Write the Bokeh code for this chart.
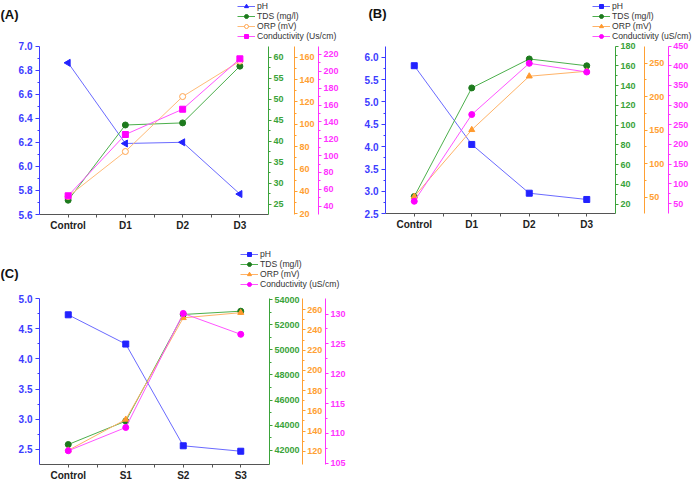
import math
from bokeh.plotting import figure
from bokeh.models import (Range1d, LinearAxis, FixedTicker, Legend, LegendItem,
                          Label, NumeralTickFormatter)
from bokeh.layouts import row, column
from bokeh.embed import file_html
from bokeh.resources import INLINE

# ---------------- data ----------------
# (A)
a_samples = ["Control", "D1", "D2", "D3"]
a_ph = [6.86, 6.19, 6.20, 5.77]
a_tds = [26.0, 43.9, 44.4, 57.9]
a_orp = [35.5, 75.7, 124.8, 156.4]
a_cond = [52.3, 125.0, 155.0, 214.8]
a_ph_ticks = [5.6, 5.8, 6.0, 6.2, 6.4, 6.6, 6.8, 7.0]
a_tds_ticks = [25, 30, 35, 40, 45, 50, 55, 60]
a_orp_ticks = [20, 40, 60, 80, 100, 120, 140, 160]
a_cond_ticks = [40, 60, 80, 100, 120, 140, 160, 180, 200, 220]

# (B)
b_samples = ["Control", "D1", "D2", "D3"]
b_ph = [5.81, 4.05, 2.96, 2.82]
b_tds = [27.8, 137.6, 166.9, 160.0]
b_orp = [51.0, 150.6, 230.6, 238.0]
b_cond = [55.8, 276.0, 406.0, 384.0]
b_ph_ticks = [2.5, 3.0, 3.5, 4.0, 4.5, 5.0, 5.5, 6.0]
b_tds_ticks = [20, 40, 60, 80, 100, 120, 140, 160, 180]
b_orp_ticks = [50, 100, 150, 200, 250]
b_cond_ticks = [50, 100, 150, 200, 250, 300, 350, 400, 450]

# (C)
c_samples = ["Control", "S1", "S2", "S3"]
c_ph = [4.73, 4.245, 2.56, 2.47]
c_tds = [42470, 44330, 52810, 53070]
c_orp = [121.0, 151.5, 251.9, 257.0]
c_cond = [107.1, 111.0, 130.1, 126.6]
c_ph_ticks = [2.5, 3.0, 3.5, 4.0, 4.5, 5.0]
c_tds_ticks = [42000, 44000, 46000, 48000, 50000, 52000, 54000]
c_orp_ticks = [120, 140, 160, 180, 200, 220, 240, 260]
c_cond_ticks = [105, 110, 115, 120, 125, 130]

FONT = "Liberation Sans"
W, H = 346, 240

BLUE_AX, BLUE_LN, BLUE_MK = "#3c3cff", "#6a6aff", "#2222ff"
GREEN_AX, GREEN_LN, GREEN_MK = "#3aa33a", "#4caf4c", "#1d7a1d"
ORANGE_AX = "#ffa033"
MAG_AX, MAG_LN, MAG_MK = "#ff33ff", "#ff55ff", "#ff00ff"


def minor_between(ticks):
    return [(a + b) / 2 for a, b in zip(ticks, ticks[1:])]


def full_range(lo, hi, top_px, bot_px):
    """Extend an axis span drawn between top_px and bot_px to the whole canvas."""
    per_px = (hi - lo) / (bot_px - top_px)
    return Range1d(lo - (H - bot_px) * per_px, hi + top_px * per_px)


def style_axis(ax, color, size, standoff=2, tick_out=3):
    ax.axis_line_color = color
    ax.major_tick_line_color = color
    ax.minor_tick_line_color = color
    ax.major_tick_in = 0
    ax.major_tick_out = tick_out
    ax.minor_tick_in = 0
    ax.minor_tick_out = 2
    ax.major_label_text_color = color
    ax.major_label_text_font = FONT
    ax.major_label_text_font_style = "bold"
    ax.major_label_text_font_size = size
    ax.major_label_standoff = standoff


def build_panel(tag, samples, series, ph_span, ph_ticks, right_specs, box,
                right_axis_px, legend_xy, tag_xy, cond_name):
    left_px, right_px, top_px, bot_px = box
    n = len(samples)
    step = (right_px - left_px) / n
    x_lo = -0.5 - left_px / step
    x_hi = n - 0.5 + (W - right_px) / step

    p = figure(width=W, height=H, output_backend="svg", toolbar_location=None,
               min_border=0, x_range=Range1d(x_lo, x_hi),
               y_range=full_range(ph_span[0], ph_span[1], top_px, bot_px))
    p.outline_line_color = None
    p.grid.visible = False
    p.background_fill_color = "white"
    p.border_fill_color = "white"

    # category axis along the bottom of the plotting box
    xs = list(range(n))
    xa = p.xaxis[0]
    xa.fixed_location = ph_span[0]
    xa.bounds = (-0.5, n - 0.5)
    xa.ticker = FixedTicker(ticks=xs, minor_ticks=[x + 0.5 for x in xs[:-1]])
    xa.major_label_overrides = {x: s for x, s in zip(xs, samples)}
    style_axis(xa, "#555555", "10px", standoff=2)
    xa.minor_tick_out = 3
    xa.major_label_text_color = "#222222"

    # pH axis on the left
    ya = p.yaxis[0]
    ya.fixed_location = -0.5
    ya.bounds = ph_span
    ya.ticker = FixedTicker(ticks=ph_ticks, minor_ticks=minor_between(ph_ticks))
    ya.formatter = NumeralTickFormatter(format="0.0")
    style_axis(ya, BLUE_AX, "10px", standoff=3, tick_out=4)

    renderers = []
    ph_vals, ph_marker = series[0]
    ln = p.line(xs, ph_vals, line_color=BLUE_LN, line_width=1)
    sc = p.scatter(xs, ph_vals, marker=ph_marker[0], angle=ph_marker[1],
                   size=ph_marker[2], fill_color=BLUE_MK, line_color=BLUE_MK)
    renderers.append(("pH", [ln, sc]))

    names = ["TDS (mg/l)", "ORP (mV)", cond_name]
    for (vals, mk), spec, name, ax_px in zip(series[1:], right_specs, names, right_axis_px):
        key, span, ticks, ax_col, ln_col, mk_col, fill = spec
        p.extra_y_ranges[key] = full_range(span[0], span[1], top_px, bot_px)
        ax = LinearAxis(y_range_name=key,
                        ticker=FixedTicker(ticks=ticks, minor_ticks=minor_between(ticks)))
        ax.fixed_location = n - 0.5 + (ax_px - right_px) / step
        ax.bounds = span
        style_axis(ax, ax_col, "9px", standoff=2)
        p.add_layout(ax, "right")
        ln = p.line(xs, vals, y_range_name=key, line_color=ln_col, line_width=1)
        sc = p.scatter(xs, vals, y_range_name=key, marker=mk[0], angle=mk[1], size=mk[2],
                       fill_color=fill, line_color=mk_col, line_width=1)
        renderers.append((name, [ln, sc]))

    legend = Legend(items=[LegendItem(label=nm, renderers=r) for nm, r in renderers],
                    location=legend_xy, orientation="vertical")
    legend.label_text_font = FONT
    legend.label_text_font_size = "8.6px"
    legend.label_text_color = "#333333"
    legend.glyph_width = 18
    legend.glyph_height = 10
    legend.label_height = 10
    legend.label_standoff = 2
    legend.spacing = 0
    legend.padding = 0
    legend.margin = 0
    legend.border_line_alpha = 0
    legend.background_fill_alpha = 0
    p.add_layout(legend)

    p.add_layout(Label(x=tag_xy[0], y=tag_xy[1], x_units="screen", y_units="screen",
                       text=tag, text_font=FONT, text_font_style="bold",
                       text_font_size="13px", text_baseline="middle",
                       text_color="#111111"))
    return p


LEFT_TRI = ("triangle", math.pi / 2, 7)
SQ = ("square", 0, 6)
CI = ("circle", 0, 6)
TRI = ("triangle", 0, 6)

pA = build_panel(
    "(A)", a_samples,
    [(a_ph, LEFT_TRI), (a_tds, CI), (a_orp, CI), (a_cond, SQ)],
    (5.6, 7.0), a_ph_ticks,
    [("tds", (22.6, 62.7), a_tds_ticks, GREEN_AX, GREEN_LN, GREEN_MK, GREEN_MK),
     ("orp", (19.4, 170.0), a_orp_ticks, ORANGE_AX, "#ffbb77", "#ffa54f", "white"),
     ("cond", (30.1, 230.0), a_cond_ticks, MAG_AX, MAG_LN, MAG_MK, MAG_MK)],
    (39, 268, 45.5, 214), (268, 294, 318), (237, 199), (0, 226),
    "Conductivity (Us/cm)")

pB = build_panel(
    "(B)", b_samples,
    [(b_ph, SQ), (b_tds, CI), (b_orp, TRI), (b_cond, CI)],
    (2.5, 6.25), b_ph_ticks,
    [("tds", (10.3, 180.0), b_tds_ticks, GREEN_AX, GREEN_LN, GREEN_MK, GREEN_MK),
     ("orp", (25.2, 275.7), b_orp_ticks, ORANGE_AX, "#ffb266", "#ff9a2e", "#ff9a2e"),
     ("cond", (24.0, 450.0), b_cond_ticks, MAG_AX, MAG_LN, MAG_MK, MAG_MK)],
    (39, 269, 45.5, 213.3), (269, 297.7, 321.7), (246, 199), (22, 226.7),
    "Conductivity (uS/cm)")

pC = build_panel(
    "(C)", c_samples,
    [(c_ph, SQ), (c_tds, CI), (c_orp, TRI), (c_cond, CI)],
    (2.25, 5.0), c_ph_ticks,
    [("tds", (40880, 54080), c_tds_ticks, GREEN_AX, GREEN_LN, GREEN_MK, GREEN_MK),
     ("orp", (107.0, 271.0), c_orp_ticks, ORANGE_AX, "#ffb266", "#ff9a2e", "#ff9a2e"),
     ("cond", (104.8, 132.6), c_cond_ticks, MAG_AX, MAG_LN, MAG_MK, MAG_MK)],
    (39, 269, 58, 224), (269, 301.7, 325), (240, 191), (0, 207),
    "Conductivity (uS/cm)")

layout = column(row(pA, pB), pC)

with open("out.html", "w") as f:
    f.write(file_html(layout, INLINE))
